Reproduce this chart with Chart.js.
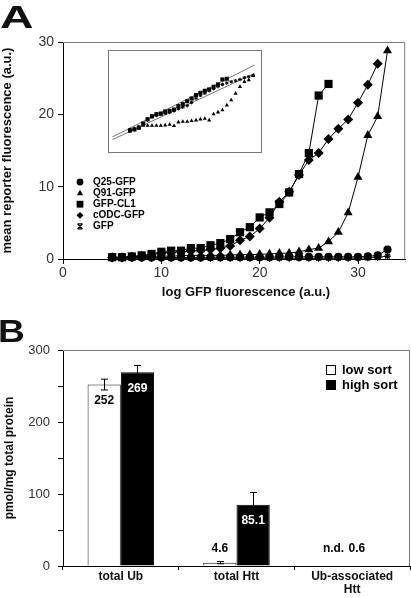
<!DOCTYPE html>
<html>
<head>
<meta charset="utf-8">
<script src="https://cdn.jsdelivr.net/npm/chart.js"></script>
<style>
  body { margin: 0; width: 411px; height: 598px; position: relative; overflow: hidden; background: #fff; }
  canvas { position: absolute; }
  .panel-letter {
    position: absolute; font-family: "Liberation Sans", Arial, sans-serif; font-weight: bold;
    font-size: 32px; line-height: 32px; color: #111; transform-origin: left top;
  }
</style>
</head>
<body>
<canvas id="chartA" width="411" height="300" style="left:0;top:0"></canvas>
<canvas id="inset" width="154" height="103" style="left:108px;top:50px"></canvas>
<canvas id="chartB" width="411" height="298" style="left:0;top:300px"></canvas>
<div class="panel-letter" style="left:0;top:1px;transform:scaleX(1.45)">A</div>
<div class="panel-letter" style="left:-2px;top:315px;transform:scaleX(1.16)">B</div>
<script>
// ---- panel A data (x = log GFP bin) ----
const logGfpBins = [5, 6, 7, 8, 9, 10, 11, 12, 13, 14, 15, 16, 17, 18, 19, 20, 21, 22, 23, 24, 25, 26, 27, 28, 29, 30, 31, 32, 33];
const q25Gfp  = [0.2, 0.2, 0.2, 0.2, 0.2, 0.2, 0.2, 0.2, 0.2, 0.2, 0.25, 0.25, 0.25, 0.25, 0.25, 0.25, 0.25, 0.3, 0.3, 0.3, 0.3, 0.3, 0.3, 0.3, 0.3, 0.3, 0.35, 0.5, 1.3];
const q91Gfp  = [0.2, 0.2, 0.25, 0.3, 0.35, 0.4, 0.4, 0.45, 0.5, 0.5, 0.5, 0.5, 0.55, 0.6, 0.6, 0.65, 0.7, 0.8, 0.8, 1.0, 1.3, 1.5, 2.4, 3.7, 6.4, 11.3, 17.1, 19.7, 28.8];
const gfpCl1  = [0.25, 0.25, 0.35, 0.5, 0.7, 1.0, 1.15, 1.15, 1.5, 1.5, 1.9, 2.2, 2.75, 3.7, 4.4, 5.75, 6.45, 7.6, 9.2, 11.75, 14.65, 22.6, 24.2];
const codcGfp = [0.2, 0.2, 0.3, 0.4, 0.6, 0.8, 0.9, 1.0, 1.1, 1.2, 1.3, 1.5, 1.8, 2.6, 3.1, 4.2, 5.7, 7.9, 9.3, 11.6, 13.7, 14.65, 16.6, 18.0, 19.3, 21.6, 24.1, 27.0];
const gfpOnly = [0.1, 0.1, 0.1, 0.1, 0.1, 0.1, 0.1, 0.1, 0.1, 0.1, 0.1, 0.1, 0.1, 0.1, 0.1, 0.1, 0.1, 0.1, 0.1, 0.1, 0.1, 0.1, 0.1, 0.1, 0.1, 0.1, 0.15, 0.2, 0.4];
const seriesNamesA = ['Q25-GFP', 'Q91-GFP', 'GFP-CL1', 'cODC-GFP', 'GFP'];
const xTicksA = [0, 10, 20, 30];
const yTicksA = [0, 10, 20, 30];

// ---- inset (same bins, log reporter, arbitrary 0-100 units) ----
const insetLineX = [1, 33.3];
const insetLineUpper = [15.6, 85.4];
const insetLineLower = [13, 77.3];
const insetCl1 = [22, 23, 24.7, 28.6, 32.8, 35.7, 37.7, 38.3, 40.3, 40.9, 42.2, 45.5, 47.4, 50.3, 52.9, 56.2, 58.4, 60.4, 61.7, 64.3, 66.6, 71.4, 72.1];
const insetOdc = [21, 22.5, 24, 28, 32, 35, 36.5, 37.5, 38.5, 39.5, 41, 43, 44.5, 46, 49, 53, 56, 58, 60.5, 62.5, 64.5, 66.5, 68, 69.2, 70.1, 71.4, 73.1, 74, 75.3];
const insetQ91 = [22.7, 23.7, 25.3, 26.6, 26.6, 26.6, 26.6, 26.6, 27, 27.6, 26.3, 29.9, 30.5, 30.5, 31.2, 31.8, 32.8, 33.4, 31.8, 37.7, 39.6, 41.6, 46.4, 51.3, 57.8, 64.3, 69.2, 70.8, 75];

// ---- panel B data ----
const categoriesB = ['total Ub', 'total Htt', ['Ub-associated', 'Htt']];
const lowSort = [252, 4.6, null];
const highSort = [269, 85.1, 0.6];
const lowSortErr = [7.5, 1.5, null];
const highSortErr = [9.5, 17, null];
const lowSortLabels = ['252', '4.6', 'n.d.'];
const highSortLabels = ['269', '85.1', '0.6'];

const FONT = '"Liberation Sans", Arial, Helvetica, sans-serif';
Chart.defaults.font.family = FONT;

const toXY = (ys, xs = logGfpBins) => ys.map((y, i) => ({ x: xs[i], y }));

// marker look per series (drawn by chart and by the custom legend)
const markerA = {
  'Q25-GFP':  { pointStyle: 'circle',   radius: 4.1 },
  'Q91-GFP':  { pointStyle: 'triangle', radius: 5.2 },
  'GFP-CL1':  { pointStyle: 'rect',     radius: 5.8 },
  'cODC-GFP': { pointStyle: 'rectRot',  radius: 5 },
  'GFP':      { pointStyle: 'star',     radius: 3.4 }
};

function drawMarker(ctx, style, x, y, r) {
  ctx.beginPath();
  if (style === 'circle') {
    ctx.arc(x, y, r, 0, Math.PI * 2);
    ctx.fill();
  } else if (style === 'triangle') {
    ctx.moveTo(x, y - r);
    ctx.lineTo(x + r * 0.9, y + r * 0.6);
    ctx.lineTo(x - r * 0.9, y + r * 0.6);
    ctx.closePath();
    ctx.fill();
  } else if (style === 'rect') {
    ctx.rect(x - r, y - r, 2 * r, 2 * r);
    ctx.fill();
  } else if (style === 'rectRot') {
    ctx.moveTo(x, y - r); ctx.lineTo(x + r, y); ctx.lineTo(x, y + r); ctx.lineTo(x - r, y);
    ctx.closePath();
    ctx.fill();
  } else {
    ctx.lineWidth = 1.2;
    ctx.moveTo(x - r, y - r); ctx.lineTo(x + r, y + r);
    ctx.moveTo(x + r, y - r); ctx.lineTo(x - r, y + r);
    ctx.moveTo(x - r, y - r); ctx.lineTo(x + r, y - r);
    ctx.moveTo(x - r, y + r); ctx.lineTo(x + r, y + r);
    ctx.stroke();
  }
}

// gray frame on top and right side of the plot area
const framePlugin = {
  id: 'frame',
  beforeDatasetsDraw(chart) {
    const { ctx, chartArea: a } = chart;
    ctx.save();
    ctx.strokeStyle = '#7a7a7a';
    ctx.lineWidth = 1;
    ctx.beginPath();
    ctx.moveTo(a.left, a.top + 0.5);
    ctx.lineTo(a.right - 0.5, a.top + 0.5);
    ctx.lineTo(a.right - 0.5, a.bottom);
    ctx.stroke();
    ctx.restore();
  }
};

// legend inside the plot + x title placed where the figure has it
const legendA = {
  id: 'legendA',
  afterDraw(chart) {
    const ctx = chart.ctx;
    ctx.save();
    ctx.fillStyle = '#000';
    ctx.strokeStyle = '#000';
    seriesNamesA.forEach((name, i) => {
      const y = 182 + i * 11.1;
      drawMarker(ctx, markerA[name].pointStyle, 80, y, name === 'GFP' ? 2.5 : 3.4);
      ctx.font = 'bold 10px ' + FONT;
      ctx.textBaseline = 'middle';
      ctx.fillText(name, 93, y);
    });
    ctx.fillStyle = '#111';
    ctx.font = 'bold 13px ' + FONT;
    ctx.textAlign = 'center';
    ctx.fillText('log GFP fluorescence (a.u.)', 246, 292.5);
    ctx.restore();
  }
};

function seriesA(name, ys, order) {
  const m = markerA[name];
  return {
    label: name,
    data: toXY(ys),
    showLine: true,
    borderColor: '#000',
    borderWidth: 1,
    backgroundColor: '#000',
    pointStyle: m.pointStyle,
    pointRadius: m.radius,
    pointBorderWidth: m.pointStyle === 'star' ? 1.2 : 0,
    pointBorderColor: '#000',
    order
  };
}

new Chart(document.getElementById('chartA'), {
  type: 'scatter',
  data: {
    datasets: [
      seriesA('GFP-CL1', gfpCl1, 0),
      seriesA('cODC-GFP', codcGfp, 1),
      seriesA('Q91-GFP', q91Gfp, 2),
      seriesA('Q25-GFP', q25Gfp, 3),
      seriesA('GFP', gfpOnly, 4)
    ]
  },
  options: {
    responsive: false,
    animation: false,
    clip: false,
    layout: { padding: { top: 42, right: 2, left: 0, bottom: 0 } },
    plugins: { legend: { display: false }, tooltip: { enabled: false } },
    scales: {
      x: {
        type: 'linear', min: 0, max: 34.8,
        afterBuildTicks: s => { s.ticks = xTicksA.map(v => ({ value: v })); },
        afterFit: s => { s.height = 41; },
        grid: { drawOnChartArea: false, tickLength: 5, color: '#000' },
        border: { color: '#000', width: 1 },
        ticks: { font: { size: 14 }, color: '#333', padding: 1, maxRotation: 0 }
      },
      y: {
        min: 0, max: 30,
        afterBuildTicks: s => { s.ticks = yTicksA.map(v => ({ value: v })); },
        afterFit: s => { s.width = 63; },
        grid: { drawOnChartArea: false, tickLength: 5, color: '#000' },
        border: { color: '#000', width: 1 },
        ticks: { font: { size: 14 }, color: '#333', padding: 4 },
        title: { display: true, text: 'mean reporter fluorescence (a.u.)', font: { size: 13, weight: 'bold' }, color: '#111', padding: { top: 0, bottom: 0 } }
      }
    }
  },
  plugins: [framePlugin, legendA]
});

// ---- inset ----
const insetBorder = {
  id: 'insetBorder',
  afterDraw(chart) {
    const ctx = chart.ctx;
    ctx.save();
    ctx.strokeStyle = '#777';
    ctx.lineWidth = 1;
    ctx.strokeRect(0.5, 0.5, chart.width - 1, chart.height - 1);
    ctx.restore();
  }
};

new Chart(document.getElementById('inset'), {
  type: 'scatter',
  data: {
    datasets: [
      { data: toXY(insetCl1), pointStyle: 'rect', pointRadius: 2.9, backgroundColor: '#000', pointBorderWidth: 0 },
      { data: toXY(insetOdc), pointStyle: 'star', pointRadius: 1.8, borderColor: '#000', pointBorderWidth: 1 },
      { data: toXY(insetQ91), pointStyle: 'triangle', pointRadius: 2.4, backgroundColor: '#000', pointBorderWidth: 0 },
      { data: toXY(insetLineUpper, insetLineX), showLine: true, borderColor: '#555', borderWidth: 0.8, pointRadius: 0 },
      { data: toXY(insetLineLower, insetLineX), showLine: true, borderColor: '#555', borderWidth: 0.8, pointRadius: 0 }
    ]
  },
  options: {
    responsive: false,
    animation: false,
    layout: { padding: 0, autoPadding: false },
    plugins: { legend: { display: false }, tooltip: { enabled: false } },
    scales: {
      x: { type: 'linear', display: false, min: 0, max: 35 },
      y: { display: false, min: 0, max: 100 }
    }
  },
  plugins: [insetBorder]
});

// ---- panel B ----
const errorBars = {
  id: 'errorBars',
  afterDatasetsDraw(chart) {
    const { ctx } = chart;
    const y = chart.scales.y;
    [lowSortErr, highSortErr].forEach((errs, d) => {
      const meta = chart.getDatasetMeta(d);
      const vals = chart.data.datasets[d].data;
      errs.forEach((e, i) => {
        if (e == null || vals[i] == null) return;
        const x = Math.round(meta.data[i].x) + 0.5;
        const yHi = y.getPixelForValue(vals[i] + e);
        const yLo = y.getPixelForValue(vals[i] - e);
        ctx.save();
        ctx.strokeStyle = '#000';
        ctx.lineWidth = 1;
        ctx.beginPath();
        ctx.moveTo(x, yHi); ctx.lineTo(x, yLo);
        ctx.moveTo(x - 3.5, yHi); ctx.lineTo(x + 3.5, yHi);
        ctx.moveTo(x - 3.5, yLo); ctx.lineTo(x + 3.5, yLo);
        ctx.stroke();
        ctx.restore();
      });
    });
  }
};

const barLabels = {
  id: 'barLabels',
  afterDatasetsDraw(chart, args, opts) {
    const { ctx } = chart;
    const xs = chart.scales.x, y = chart.scales.y;
    [lowSortLabels, highSortLabels].forEach((labels, d) => {
      const vals = chart.data.datasets[d].data;
      labels.forEach((txt, i) => {
        const half = (xs.width / categoriesB.length) * 0.575 / 4;
        let x = xs.getPixelForValue(i) + (d === 0 ? -half : half);
        if (opts.nudge[d] && opts.nudge[d][i]) x += opts.nudge[d][i];
        const v = vals[i] == null ? 0 : vals[i];
        const inside = v > 50;
        const ty = inside ? y.getPixelForValue(v) + 16 : y.getPixelForValue(0) - 17.7;
        ctx.save();
        ctx.font = 'bold 12px ' + FONT;
        ctx.textAlign = 'center';
        ctx.textBaseline = 'middle';
        ctx.fillStyle = inside && d === 1 ? '#fff' : '#000';
        ctx.fillText(txt, x, ty);
        ctx.restore();
      });
    });
  }
};

const legendB = {
  id: 'legendB',
  afterDraw(chart) {
    const ctx = chart.ctx;
    ctx.save();
    ctx.font = 'bold 13px ' + FONT;
    ctx.textBaseline = 'middle';
    chart.data.datasets.forEach((ds, i) => {
      const cy = 70 + i * 15;
      ctx.fillStyle = ds.backgroundColor;
      ctx.fillRect(326, cy - 5, 10, 10);
      ctx.strokeStyle = '#000';
      ctx.lineWidth = 1;
      ctx.strokeRect(326.5, cy - 4.5, 9, 9);
      ctx.fillStyle = '#000';
      ctx.fillText(ds.label, 342, cy);
    });
    ctx.restore();
  }
};

new Chart(document.getElementById('chartB'), {
  type: 'bar',
  data: {
    labels: categoriesB,
    datasets: [
      { label: 'low sort', data: lowSort, backgroundColor: '#fff', borderColor: '#111', borderWidth: 1, categoryPercentage: 0.575, barPercentage: 1 },
      { label: 'high sort', data: highSort, backgroundColor: '#000', borderColor: '#000', borderWidth: 1, categoryPercentage: 0.575, barPercentage: 1 }
    ]
  },
  options: {
    responsive: false,
    animation: false,
    layout: { padding: { top: 50, right: 1, left: 0, bottom: 0 } },
    plugins: {
      legend: { display: false },
      tooltip: { enabled: false },
      barLabels: { nudge: [[0, 0, -2], [0, 0, -12]] }
    },
    scales: {
      x: {
        afterFit: s => { s.height = 32; },
        grid: { offset: true, drawOnChartArea: false, tickLength: 4, color: '#000' },
        border: { color: '#000', width: 1 },
        ticks: { font: { size: 12, weight: 'bold', lineHeight: 1.12 }, color: '#111', padding: 0, maxRotation: 0 }
      },
      y: {
        min: 0, max: 300,
        afterFit: s => { s.width = 63; },
        grid: { drawOnChartArea: false, tickLength: 5, color: '#000' },
        border: { color: '#000', width: 1 },
        ticks: { stepSize: 50, font: { size: 13 }, color: '#333', padding: 8, callback: v => (v % 100 === 0 ? v : '') },
        title: { display: true, text: 'pmol/mg total protein', font: { size: 12, weight: 'bold' }, color: '#111', padding: { top: 2, bottom: 0 } }
      }
    }
  },
  plugins: [framePlugin, errorBars, barLabels, legendB]
});
</script>
</body>
</html>
